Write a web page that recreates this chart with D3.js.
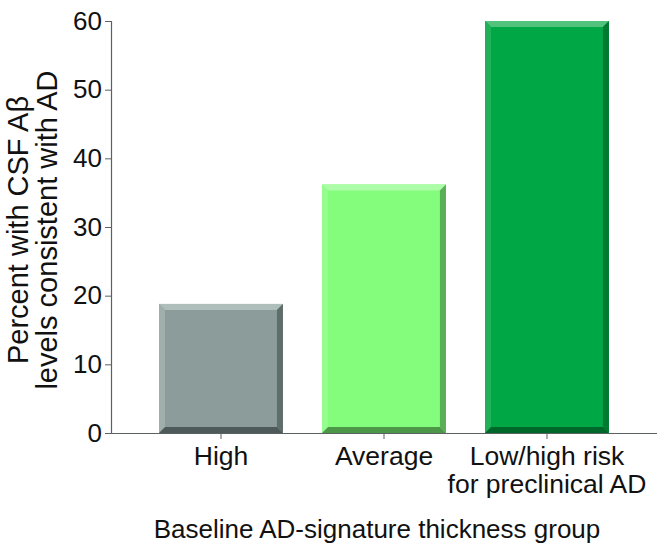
<!DOCTYPE html>
<html>
<head>
<meta charset="utf-8">
<script src="https://cdn.jsdelivr.net/npm/d3@7"></script>
<style>
  body { margin: 0; background: #fff; }
  svg text { font-family: Arial, "Liberation Sans", sans-serif; fill: #111; }
</style>
</head>
<body>
<div id="chart"></div>
<script>
// data
const groups = ['High', 'Average', 'Low/high risk\nfor preclinical AD'];
const percents = [18.8, 36.2, 60];
const yTicks = [0, 10, 20, 30, 40, 50, 60];

// bevel colours per bar: main, top, left, right, bottom
const barColors = [
    { main: '#8c9c9a', top: '#afbdbb', left: '#a0aeac', right: '#5f6d6b', bottom: '#4e5a59' },
    { main: '#84fc7c', top: '#adfca7', left: '#95fc8e', right: '#5aae56', bottom: '#4c9848' },
    { main: '#00a745', top: '#52c27c', left: '#20b159', right: '#007a30', bottom: '#00672a' }
];

const width = 657, height = 546;
const margin = { top: 21, right: 0, bottom: 113, left: 111 };
const innerW = width - margin.left - margin.right;
const innerH = height - margin.top - margin.bottom;

const svg = d3.select('#chart').append('svg')
    .attr('width', width)
    .attr('height', height);

const g = svg.append('g')
    .attr('transform', `translate(${margin.left},${margin.top})`);

const xScale = d3.scaleBand()
    .domain(groups)
    .range([0, innerW])
    .paddingInner(0.24)
    .paddingOuter(0.295);

const yScale = d3.scaleLinear()
    .domain([0, 60])
    .range([innerH, 0]);

// bars with bevelled edges
const bevel = 6;
groups.forEach((grp, i) => {
    const x0 = xScale(grp), x1 = x0 + xScale.bandwidth();
    const y0 = yScale(percents[i]), y1 = yScale(0);
    const c = barColors[i];
    const bar = g.append('g').attr('class', 'bar');
    const poly = (pts, fill) => bar.append('polygon')
        .attr('points', pts.map(p => p.join(',')).join(' '))
        .attr('fill', fill);
    bar.append('rect')
        .attr('x', x0).attr('y', y0)
        .attr('width', x1 - x0).attr('height', y1 - y0)
        .attr('fill', c.main);
    poly([[x0, y0], [x1, y0], [x1 - bevel, y0 + bevel], [x0 + bevel, y0 + bevel]], c.top);
    poly([[x0, y0], [x0 + bevel, y0 + bevel], [x0 + bevel, y1 - bevel], [x0, y1]], c.left);
    poly([[x1, y0], [x1, y1], [x1 - bevel, y1 - bevel], [x1 - bevel, y0 + bevel]], c.right);
    poly([[x0, y1], [x0 + bevel, y1 - bevel], [x1 - bevel, y1 - bevel], [x1, y1]], c.bottom);
});

// axes
const yAxis = d3.axisLeft(yScale).tickValues(yTicks).tickSize(6).tickPadding(3);
const yG = g.append('g').call(yAxis);
yG.select('.domain').attr('stroke', '#5a6262').attr('stroke-width', 1.2);
yG.selectAll('.tick line').attr('stroke', '#5a6262');
yG.selectAll('.tick text')
    .style('font-size', '26px')
    .attr('fill', '#111');

const xAxis = d3.axisBottom(xScale).tickSize(6).tickSizeOuter(0).tickFormat('');
const xG = g.append('g').attr('transform', `translate(0,${innerH})`).call(xAxis);
xG.select('.domain').attr('stroke', '#5a6262').attr('stroke-width', 1.2);
xG.selectAll('.tick line').attr('stroke', '#5a6262');

// multi-line category labels
xG.selectAll('.tick').each(function (d) {
    const t = d3.select(this).append('text')
        .attr('text-anchor', 'middle')
        .style('font-size', '26.5px')
        .attr('fill', '#111');
    d.split('\n').forEach((line, k) => {
        t.append('tspan').attr('x', 0).attr('y', 32 + k * 28).text(line);
    });
});

// axis titles
svg.append('text')
    .attr('x', margin.left + innerW / 2 - 7)
    .attr('y', 538)
    .attr('text-anchor', 'middle')
    .style('font-size', '26px')
    .text('Baseline AD-signature thickness group');

const yTitle = svg.append('text')
    .attr('transform', 'translate(0,230) rotate(-90)')
    .attr('text-anchor', 'middle')
    .style('font-size', '29px');
yTitle.append('tspan').attr('x', 0).attr('y', 28).text('Percent with CSF A\u03b2');
yTitle.append('tspan').attr('x', 0).attr('y', 57).text('levels consistent with AD');
</script>
</body>
</html>
